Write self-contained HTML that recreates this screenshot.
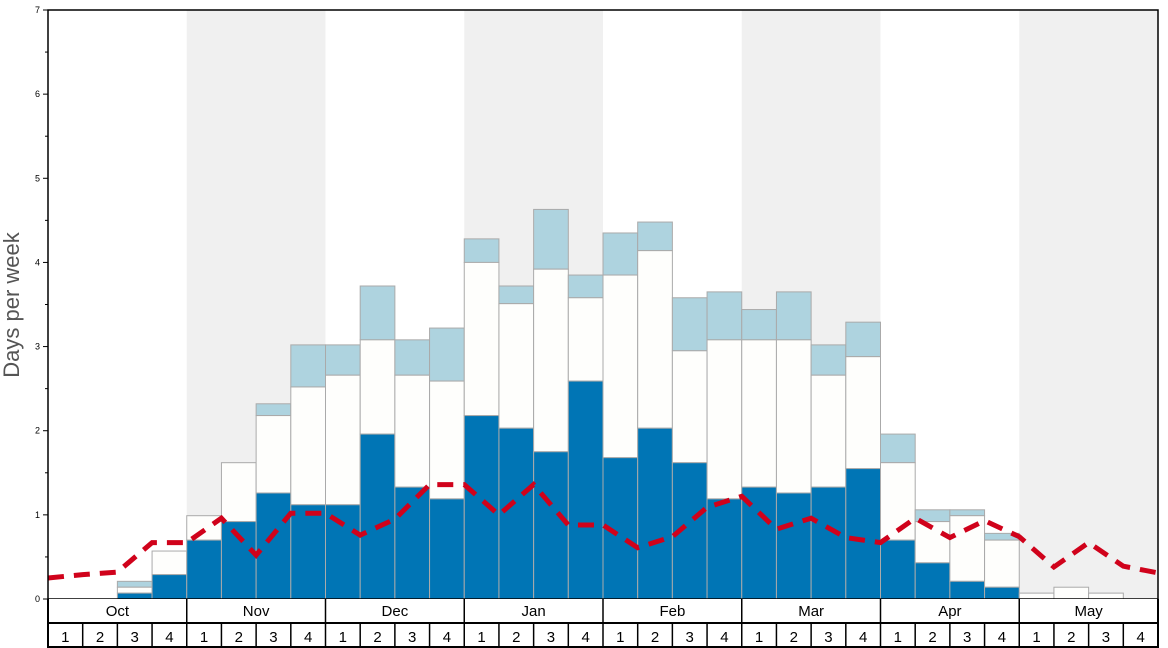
<!DOCTYPE html>
<html><head><meta charset="utf-8"><style>
body{margin:0;background:#fff;font-family:"Liberation Sans","DejaVu Sans",sans-serif}
svg{display:block}
</style></head><body>
<svg id="chart" width="1168" height="648" xmlns="http://www.w3.org/2000/svg"></svg>
<script>
const months=["Oct","Nov","Dec","Jan","Feb","Mar","Apr","May"];
const weekLabels=["1","2","3","4"];
const blueVals=[0,0,0.07,0.29,0.70,0.92,1.26,1.12,1.12,1.96,1.33,1.19,2.18,2.03,1.75,2.59,1.68,2.03,1.62,1.19,1.33,1.26,1.33,1.55,0.70,0.43,0.21,0.14,0,0,0,0];
const whiteTop=[0,0,0.14,0.57,0.99,1.62,2.18,2.52,2.66,3.08,2.66,2.59,4.00,3.51,3.92,3.58,3.85,4.14,2.95,3.08,3.08,3.08,2.66,2.88,1.62,0.92,0.99,0.70,0.07,0.14,0.07,0];
const lightTop=[0,0,0.21,0.57,0.99,1.62,2.32,3.02,3.02,3.72,3.08,3.22,4.28,3.72,4.63,3.85,4.35,4.48,3.58,3.65,3.44,3.65,3.02,3.29,1.96,1.06,1.06,0.78,0.07,0.14,0.07,0];
const avgLine=[0.25,0.29,0.32,0.67,0.67,0.96,0.52,1.02,1.02,0.76,0.95,1.36,1.36,1.00,1.36,0.88,0.88,0.61,0.74,1.09,1.22,0.83,0.96,0.73,0.67,0.96,0.73,0.93,0.74,0.38,0.67,0.39,0.31];
const yTicks=[0,1,2,3,4,5,6,7];

const svg=document.getElementById('chart');
const NS='http://www.w3.org/2000/svg';
const L=48,R=1158,T=10,B=599,YMAX=7;
const nW=blueVals.length;
const bw=(R-L)/nW;
const x=i=>L+i*bw;
const y=v=>B-(v/YMAX)*(B-T);
function mk(tag,attrs,parent){const e=document.createElementNS(NS,tag);for(const k in attrs)e.setAttribute(k,attrs[k]);(parent||svg).appendChild(e);return e;}

// month bands
months.forEach((m,i)=>{
  if(i%2===1){
    const r=mk('rect',{x:x(i*4),y:T,width:bw*4,height:B-T,fill:'#f0f0f0'});
    
    
  }
});
// bars
for(let i=0;i<nW;i++){
  const g=mk('g',{});
  
  
  if(lightTop[i]>whiteTop[i]) mk('rect',{x:x(i),y:y(lightTop[i]),width:bw,height:y(whiteTop[i])-y(lightTop[i]),fill:'#aed3df',stroke:'#aaa','stroke-width':1},g);
  if(whiteTop[i]>blueVals[i]) mk('rect',{x:x(i),y:y(whiteTop[i]),width:bw,height:y(blueVals[i])-y(whiteTop[i]),fill:'#fefefc',stroke:'#aaa','stroke-width':1},g);
  if(blueVals[i]>0) mk('rect',{x:x(i),y:y(blueVals[i]),width:bw,height:B-y(blueVals[i]),fill:'#0075b5',stroke:'#aaa','stroke-width':1},g);
}
// average line
const pts=avgLine.map((v,k)=>x(k).toFixed(1)+','+y(v).toFixed(1)).join(' ');
const pl=mk('polyline',{points:pts,fill:'none',stroke:'#d0021b','stroke-width':5,'stroke-dasharray':'16,10'});



// y axis ticks
yTicks.forEach(t=>{
  mk('line',{x1:L-5,x2:L,y1:y(t),y2:y(t),stroke:'#000','stroke-width':1});
  const tx=mk('text',{x:L-8,y:y(t)+3,'font-size':9,'text-anchor':'end',fill:'#000'});
  tx.textContent=t;
  
  
  if(t<YMAX) mk('line',{x1:L-3,x2:L,y1:y(t+0.5),y2:y(t+0.5),stroke:'#000','stroke-width':1});
});
// frame
mk('rect',{x:L,y:T,width:R-L,height:B-T,fill:'none',stroke:'#000','stroke-width':1.5});
// bottom axis rows
mk('rect',{x:L,y:B,width:R-L,height:648-B,fill:'#fff',stroke:'none'});
mk('line',{x1:L,x2:R,y1:623,y2:623,stroke:'#000','stroke-width':2});
mk('line',{x1:L,x2:R,y1:647,y2:647,stroke:'#000','stroke-width':2});
mk('line',{x1:L,x2:L,y1:B,y2:648,stroke:'#000','stroke-width':2});
mk('line',{x1:R,x2:R,y1:B,y2:648,stroke:'#000','stroke-width':2});
months.forEach((m,i)=>{
  if(i>0) mk('line',{x1:x(i*4),x2:x(i*4),y1:B,y2:623,stroke:'#000','stroke-width':1.5});
  const t=mk('text',{x:x(i*4)+bw*2,y:616,'font-size':15,'text-anchor':'middle',fill:'#000'});
  t.textContent=m;
  
  
});
for(let i=0;i<nW;i++){
  if(i>0) mk('line',{x1:x(i),x2:x(i),y1:623,y2:648,stroke:'#000','stroke-width':1.5});
  const t=mk('text',{x:x(i)+bw/2,y:642,'font-size':15,'text-anchor':'middle',fill:'#000'});
  t.textContent=weekLabels[i%4];
  
  
}
// y title
const yt=mk('text',{x:0,y:0,'font-size':22,'text-anchor':'middle',fill:'#555',transform:'translate(19,305) rotate(-90)'});
yt.textContent='Days per week';


</script>
</body></html>
